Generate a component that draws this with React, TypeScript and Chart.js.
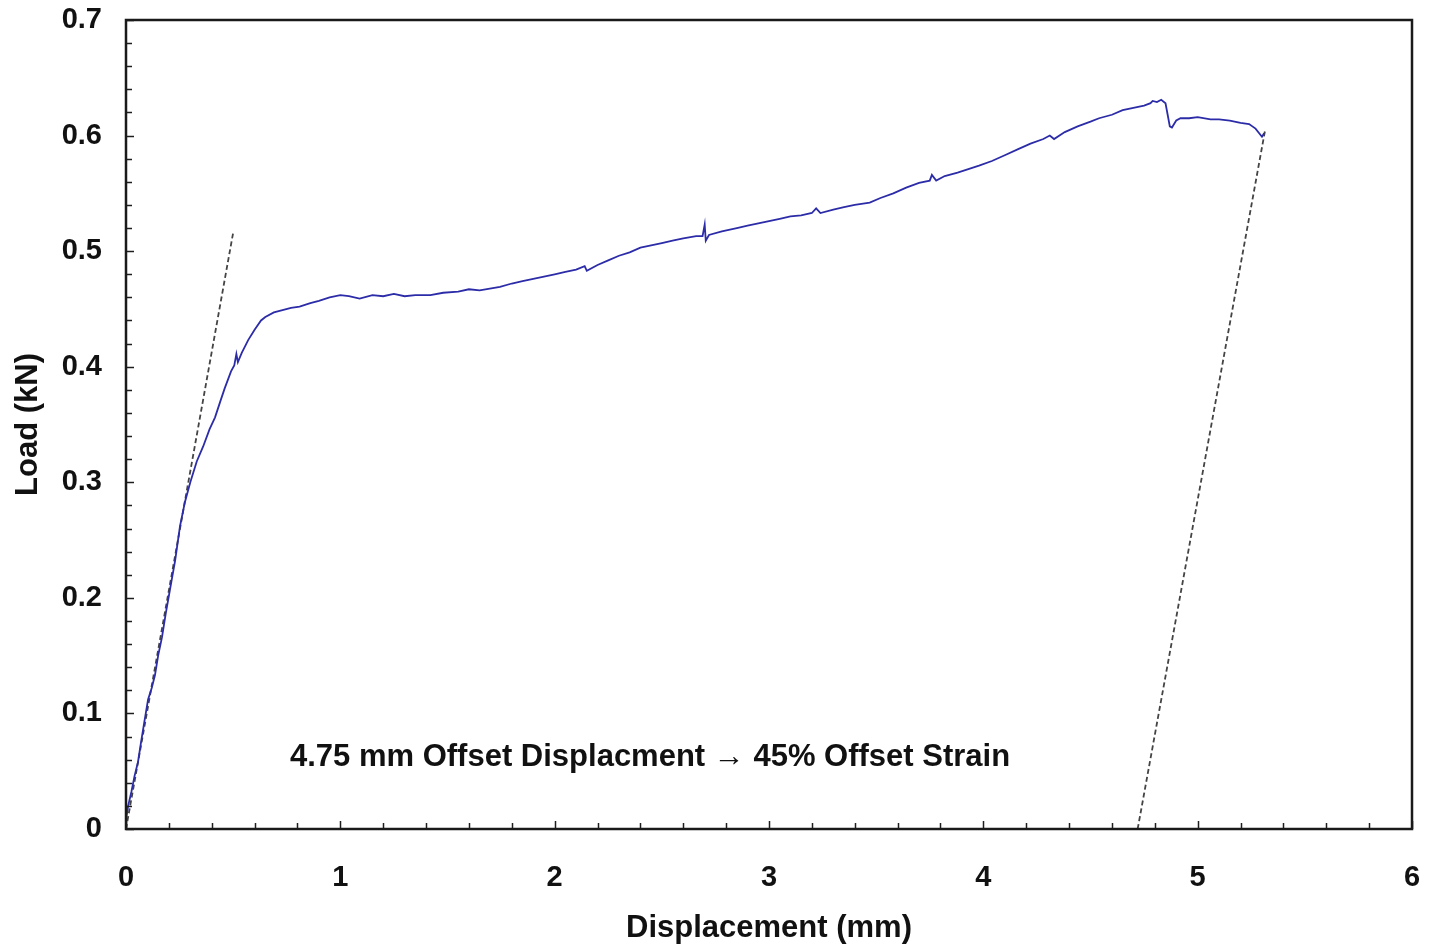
import React, { useEffect, useRef } from "react";
import { Chart, registerables } from "chart.js";

Chart.register(...registerables);

// Measured load-displacement curve (displacement in mm, load in kN)
const curveX: number[] = [
  0.000, 0.010, 0.025, 0.040, 0.056, 0.070, 0.085, 0.103, 0.120, 0.135,
  0.150, 0.168, 0.185, 0.205, 0.229, 0.252, 0.275, 0.300, 0.330, 0.360,
  0.390, 0.415, 0.440, 0.460, 0.490, 0.505, 0.515, 0.522, 0.540, 0.570,
  0.600, 0.630, 0.650, 0.690, 0.730, 0.770, 0.810, 0.860, 0.900, 0.950,
  1.000, 1.040, 1.090, 1.150, 1.200, 1.250, 1.300, 1.350, 1.420, 1.480,
  1.550, 1.600, 1.650, 1.745, 1.800, 1.850, 1.900, 1.950, 2.000, 2.050,
  2.100, 2.140, 2.150, 2.200, 2.250, 2.300, 2.350, 2.400, 2.450, 2.500,
  2.550, 2.600, 2.660, 2.690, 2.700, 2.705, 2.720, 2.780, 2.850, 2.900,
  2.950, 3.000, 3.050, 3.100, 3.150, 3.200, 3.220, 3.240, 3.300, 3.350,
  3.400, 3.470, 3.520, 3.580, 3.640, 3.700, 3.750, 3.760, 3.780, 3.820,
  3.880, 3.930, 3.980, 4.040, 4.100, 4.160, 4.220, 4.280, 4.310, 4.330,
  4.380, 4.440, 4.500, 4.540, 4.600, 4.650, 4.700, 4.750, 4.780, 4.790,
  4.810, 4.830, 4.850, 4.860, 4.870, 4.880, 4.900, 4.920, 4.960, 5.000,
  5.060, 5.100, 5.150, 5.200, 5.240, 5.270, 5.300, 5.310,
];
const curveLoad: number[] = [
  0.008, 0.020, 0.032, 0.046, 0.058, 0.075, 0.092, 0.112, 0.122, 0.133,
  0.150, 0.166, 0.186, 0.207, 0.232, 0.262, 0.283, 0.300, 0.318, 0.331,
  0.346, 0.356, 0.370, 0.381, 0.396, 0.401, 0.411, 0.404, 0.412, 0.423,
  0.432, 0.440, 0.443, 0.447, 0.449, 0.451, 0.452, 0.455, 0.457, 0.460,
  0.462, 0.461, 0.459, 0.462, 0.461, 0.463, 0.461, 0.462, 0.462, 0.464,
  0.465, 0.467, 0.466, 0.469, 0.472, 0.474, 0.476, 0.478, 0.480, 0.482,
  0.484, 0.487, 0.483, 0.488, 0.492, 0.496, 0.499, 0.503, 0.505, 0.507,
  0.509, 0.511, 0.513, 0.513, 0.523, 0.509, 0.514, 0.517, 0.520, 0.522,
  0.524, 0.526, 0.528, 0.530, 0.531, 0.533, 0.537, 0.533, 0.536, 0.538,
  0.540, 0.542, 0.546, 0.550, 0.555, 0.559, 0.561, 0.566, 0.561, 0.565,
  0.568, 0.571, 0.574, 0.578, 0.583, 0.588, 0.593, 0.597, 0.600, 0.597,
  0.603, 0.608, 0.612, 0.615, 0.618, 0.622, 0.624, 0.626, 0.628, 0.630,
  0.629, 0.631, 0.628, 0.618, 0.608, 0.607, 0.613, 0.615, 0.615, 0.616,
  0.614, 0.614, 0.613, 0.611, 0.610, 0.606, 0.599, 0.602,
];

// Elastic slope line and offset line (dashed)
const slopeX: number[] = [0.0, 0.5];
const slopeLoad: number[] = [0.0, 0.516];
const offsetX: number[] = [4.72, 5.315];
const offsetLoad: number[] = [0.0, 0.605];

const xTickLabels: number[] = [0, 1, 2, 3, 4, 5, 6];
const annotationText = "4.75 mm Offset Displacment \u2192 45% Offset Strain";
const annotationPos = { x: 2.445, y: 0.062 };

const FONT = "'Liberation Sans', Arial, Helvetica, sans-serif";

const toPts = (xs: number[], ys: number[]) => xs.map((x, i) => ({ x, y: ys[i] }));

const framePlugin = {
  id: "frameTicks",
  afterDraw(chart: any) {
    const { ctx, chartArea, scales } = chart;
    const xs = scales.x;
    const ys = scales.y;
    ctx.save();
    ctx.strokeStyle = "#1e1e1e";
    ctx.lineWidth = 1.5;
    for (let i = 0; i <= 30; i++) {
      const v = i * 0.2;
      const px = Math.round(xs.getPixelForValue(v)) + 0.5;
      const len = i % 5 === 0 ? 8 : 6;
      ctx.beginPath();
      ctx.moveTo(px, chartArea.bottom);
      ctx.lineTo(px, chartArea.bottom - len);
      ctx.stroke();
    }
    for (let i = 0; i <= 35; i++) {
      const v = i * 0.02;
      const py = Math.round(ys.getPixelForValue(v)) + 0.5;
      const len = i % 5 === 0 ? 8 : 6;
      ctx.beginPath();
      ctx.moveTo(chartArea.left, py);
      ctx.lineTo(chartArea.left + len, py);
      ctx.stroke();
    }
    ctx.lineWidth = 2.5;
    ctx.strokeStyle = "#1a1a1a";
    ctx.strokeRect(
      chartArea.left,
      chartArea.top,
      chartArea.right - chartArea.left,
      chartArea.bottom - chartArea.top
    );
    ctx.fillStyle = "#111";
    ctx.font = `bold 31px ${FONT}`;
    ctx.textAlign = "center";
    ctx.textBaseline = "middle";
    ctx.fillText(
      annotationText,
      xs.getPixelForValue(annotationPos.x),
      ys.getPixelForValue(annotationPos.y)
    );
    ctx.restore();
  },
};

export default function App() {
  const canvasRef = useRef<HTMLCanvasElement | null>(null);

  useEffect(() => {
    const canvas = canvasRef.current;
    if (!canvas) return;
    const chart = new Chart(canvas, {
      type: "scatter",
      data: {
        datasets: [
          {
            label: "Load",
            data: toPts(curveX, curveLoad),
            showLine: true,
            borderColor: "#2c2ca8",
            borderWidth: 1.8,
            pointRadius: 0,
            tension: 0,
          },
          {
            label: "Slope",
            data: toPts(slopeX, slopeLoad),
            showLine: true,
            borderColor: "#444",
            borderWidth: 1.8,
            borderDash: [5, 3],
            pointRadius: 0,
          },
          {
            label: "Offset",
            data: toPts(offsetX, offsetLoad),
            showLine: true,
            borderColor: "#444",
            borderWidth: 1.8,
            borderDash: [5, 3],
            pointRadius: 0,
          },
        ],
      },
      options: {
        animation: false,
        responsive: false,
        layout: { padding: { left: 0, right: 17, top: 20, bottom: 0 } },
        plugins: { legend: { display: false }, tooltip: { enabled: false } },
        scales: {
          x: {
            type: "linear",
            min: 0,
            max: 6,
            afterBuildTicks: (scale: any) => {
              scale.ticks = xTickLabels.map((v) => ({ value: v }));
            },
            afterFit: (scale: any) => {
              scale.height = 118;
              scale.paddingLeft = 0;
              scale.paddingRight = 0;
            },
            grid: { display: false, drawTicks: false },
            border: { display: false },
            ticks: {
              color: "#111",
              padding: 32,
              maxRotation: 0,
              font: { family: FONT, size: 29, weight: "bold" },
            },
            title: {
              display: true,
              text: "Displacement (mm)",
              color: "#111",
              font: { family: FONT, size: 31, weight: "bold" },
              padding: { top: 0, bottom: 0 },
            },
          },
          y: {
            type: "linear",
            min: 0,
            max: 0.7,
            afterFit: (scale: any) => {
              scale.width = 126;
              scale.paddingTop = 0;
              scale.paddingBottom = 0;
            },
            grid: { display: false, drawTicks: false },
            border: { display: false },
            ticks: {
              stepSize: 0.1,
              color: "#111",
              padding: 24,
              font: { family: FONT, size: 29, weight: "bold" },
              callback: (v: any) => (Math.round(Number(v) * 10) / 10).toString(),
            },
            title: {
              display: true,
              text: "Load (kN)",
              color: "#111",
              font: { family: FONT, size: 31, weight: "bold" },
              padding: { top: 10, bottom: 0 },
            },
          },
        },
      },
      plugins: [framePlugin],
    });
    return () => chart.destroy();
  }, []);

  return (
    <div style={{ position: "absolute", left: 0, top: 0, width: 1429, height: 947, background: "#fff" }}>
      <canvas ref={canvasRef} width={1429} height={947} style={{ display: "block" }} />
    </div>
  );
}
